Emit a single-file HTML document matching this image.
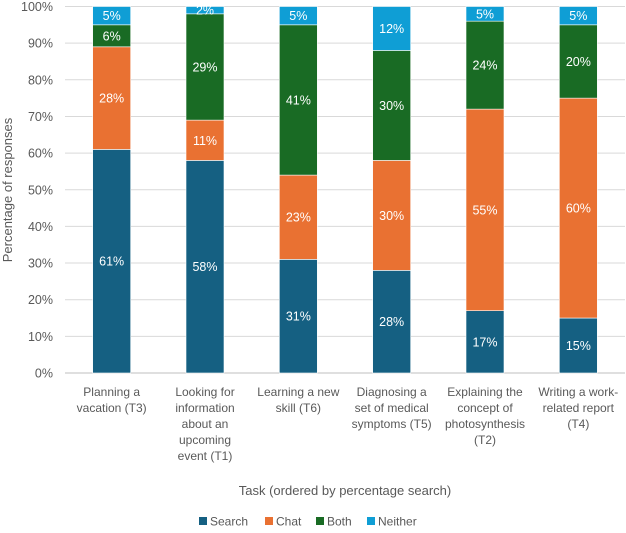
<!DOCTYPE html>
<html><head><meta charset="utf-8"><style>
body{margin:0;background:#fff;font-family:"Liberation Sans",sans-serif;}
svg text{font-family:"Liberation Sans",sans-serif;}
</style></head><body>
<svg id="chart" width="626" height="528" viewBox="0 0 626 528"></svg>
<script>
const categories=[["Planning a","vacation (T3)"],["Looking for","information","about an","upcoming","event (T1)"],["Learning a new","skill (T6)"],["Diagnosing a","set of medical","symptoms (T5)"],["Explaining the","concept of","photosynthesis","(T2)"],["Writing a work-","related report","(T4)"]];
const seriesNames=["Search","Chat","Both","Neither"];
const search=[61,58,31,28,17,15];
const chat=[28,11,23,30,55,60];
const both=[6,29,41,30,24,20];
const neither=[5,2,5,12,5,5];
const yTicks=[0,10,20,30,40,50,60,70,80,90,100];
const colors=["#156082","#E97132","#196B24","#0F9ED5"];
const svg=document.getElementById('chart');
const NS="http://www.w3.org/2000/svg";
const x0=65,x1=625,yTop=6.5,yBot=373;
const y=v=>yBot-(yBot-yTop)*v/100;
const band=(x1-x0)/categories.length;
const xc=i=>x0+band*(i+0.5);
const bw=38;
function el(t,a,p){const e=document.createElementNS(NS,t);for(const k in a)e.setAttribute(k,a[k]);(p||svg).appendChild(e);return e;}
yTicks.forEach(t=>{
  const g=el('line',{x1:x0,x2:x1,y1:y(t),y2:y(t),stroke:t===0?'#bfbfbf':'#d9d9d9','stroke-width':1});
  
  
  const l=el('text',{x:53,y:y(t)+4.5,'text-anchor':'end','font-size':12.5,fill:'#595959'});
  l.textContent=t+'%';
  
  
});
const series=[search,chat,both,neither];
categories.forEach((c,i)=>{
  let base=0;
  series.forEach((s,j)=>{
    const v=s[i];
    const top=Math.min(100,base+v);
    const r=el('rect',{x:xc(i)-bw/2,y:y(top),width:bw,height:y(base)-y(top),fill:colors[j],stroke:'#fff','stroke-width':0.6});
    
    
    const t=el('text',{x:xc(i),y:(y(base)+y(top))/2+4.5,'text-anchor':'middle','font-size':12.5,fill:'#fff'});
    t.textContent=v+'%';
    
    
    base=top;
  });
  c.forEach((line,k)=>{
    const t=el('text',{x:xc(i),y:396+k*16,'text-anchor':'middle','font-size':12,fill:'#595959'});
    t.textContent=line;
    
    
  });
});
const yt=el('text',{transform:'translate(12,190) rotate(-90)','text-anchor':'middle','font-size':13,fill:'#595959'});
yt.textContent='Percentage of responses';


const xt=el('text',{x:345,y:495,'text-anchor':'middle','font-size':13,fill:'#595959'});
xt.textContent='Task (ordered by percentage search)';


const lx=[199,265,316,367];
seriesNames.forEach((n,j)=>{
  const r=el('rect',{x:lx[j],y:517,width:8,height:8,fill:colors[j]});
  
  
  const t=el('text',{x:lx[j]+11,y:525.5,'font-size':12,fill:'#595959'});
  t.textContent=n;
  
  
});
</script>
</body></html>
